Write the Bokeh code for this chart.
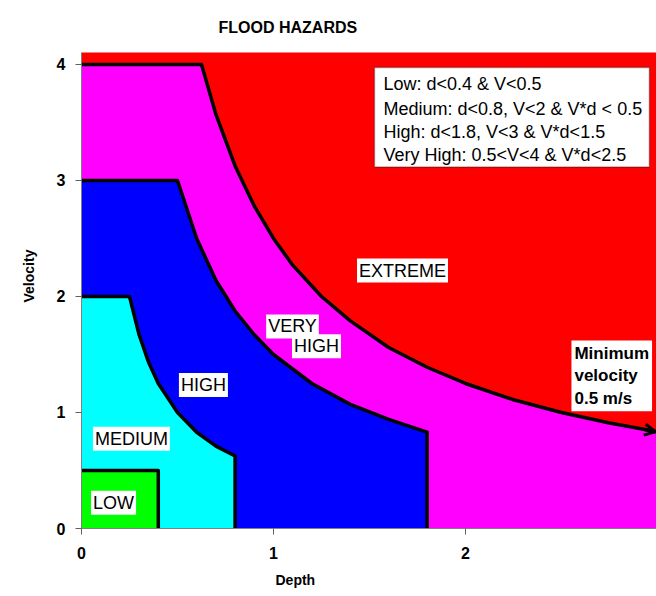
from bokeh.plotting import figure
from bokeh.models import Label, BoxAnnotation, Arrow, OpenHead, Range1d, FixedTicker, Title
from bokeh.embed import file_html
from bokeh.resources import INLINE

# ---- data (depth in m, velocity in m/s) ----
low_depth = [0.0, 0.4, 0.4]
low_vel = [0.5, 0.5, 0.0]

medium_depth = [0.0, 0.25, 0.3, 0.35, 0.4, 0.5, 0.6, 0.7, 0.8, 0.8]
medium_vel = [2.0, 2.0, 1.67, 1.43, 1.25, 1.0, 0.83, 0.71, 0.625, 0.0]

high_depth = [0.0, 0.5, 0.6, 0.7, 0.8, 0.9, 1.0, 1.2, 1.4, 1.6, 1.8, 1.8]
high_vel = [3.0, 3.0, 2.5, 2.14, 1.875, 1.67, 1.5, 1.25, 1.07, 0.94, 0.83, 0.0]

vhigh_depth = [0.0, 0.625, 0.7, 0.8, 0.9, 1.0, 1.1, 1.25, 1.4, 1.6, 1.8, 2.0, 2.25, 2.5, 2.75, 3.0]
vhigh_vel = [4.0, 4.0, 3.57, 3.125, 2.78, 2.5, 2.27, 2.0, 1.79, 1.56, 1.39, 1.25, 1.11, 1.0, 0.91, 0.833]

x_ticks = [0, 1, 2, 3]
y_ticks = [0, 1, 2, 3, 4]

legend_lines = [
    "Low: d<0.4 & V<0.5",
    "Medium: d<0.8, V<2 & V*d < 0.5",
    "High: d<1.8, V<3 & V*d<1.5",
    "Very High: 0.5<V<4 & V*d<2.5",
]

FONT = "Liberation Sans"

p = figure(width=656, height=596, x_range=Range1d(0, 2.995), y_range=Range1d(0, 4.103),
           output_backend="svg", toolbar_location=None, title=None,
           min_border_left=81, min_border_right=0, min_border_top=50, min_border_bottom=68)
p.outline_line_color = None
p.background_fill_color = "#FF0000"
p.border_fill_color = "white"
p.xgrid.visible = False
p.ygrid.visible = False

for ax in (p.xaxis[0], p.yaxis[0]):
    ax.axis_line_color = "#808080"
    ax.major_tick_line_color = "#606060"
    ax.major_tick_out = 6
    ax.major_tick_in = 0
    ax.minor_tick_line_color = None
    ax.major_label_text_font = FONT
    ax.major_label_text_font_style = "bold"
    ax.major_label_text_font_size = "16px"
    ax.major_label_text_color = "black"
p.xaxis.ticker = FixedTicker(ticks=x_ticks)
p.yaxis.ticker = FixedTicker(ticks=y_ticks)
p.xaxis.major_label_standoff = 12
p.yaxis.major_label_standoff = 10

# zones
p.patch([0.0] + vhigh_depth + [vhigh_depth[-1]], [0.0] + vhigh_vel + [0.0],
        fill_color="#FF00FF", line_color=None)
p.patch([0.0] + high_depth, [0.0] + high_vel, fill_color="#0000FF", line_color=None)
p.patch([0.0] + medium_depth, [0.0] + medium_vel, fill_color="#00FFFF", line_color=None)
p.patch([0.0] + low_depth, [0.0] + low_vel, fill_color="#00FF00", line_color=None)

# boundaries
for xs, ys in ((vhigh_depth, vhigh_vel), (high_depth, high_vel),
               (medium_depth, medium_vel), (low_depth, low_vel)):
    p.line(xs, ys, line_color="black", line_width=3.5, line_join="round")

p.add_layout(Arrow(end=OpenHead(size=11, line_width=3, line_color="black"),
                   x_start=2.92, y_start=0.856, x_end=2.99, y_end=0.834,
                   line_width=3, line_color="black"))

def zone_label(text, x, y, size="18px", style="normal"):
    p.add_layout(Label(x=x, y=y, text=text, text_align="center", text_baseline="middle",
                       text_font=FONT, text_font_size=size, text_font_style=style,
                       text_color="black", background_fill_color="white", padding=2))

zone_label("EXTREME", 1.672, 2.223)
zone_label("VERY", 1.099, 1.742)
zone_label("HIGH", 1.224, 1.571)
zone_label("HIGH", 0.635, 1.236)
zone_label("MEDIUM", 0.260, 0.773)
zone_label("LOW", 0.167, 0.223)

p.add_layout(Label(x=2.552, y=1.62, text="Minimum\nvelocity\n0.5 m/s", text_align="left",
                   text_baseline="top", text_font=FONT, text_font_size="17px",
                   text_font_style="bold", text_color="black", text_line_height=1.2,
                   background_fill_color="white", padding=3))

# legend box
p.add_layout(BoxAnnotation(left=1.526, right=2.958, top=3.974, bottom=3.116,
                           fill_color="white", fill_alpha=1.0, line_color="black", line_width=1.5))
for txt, yy in zip(legend_lines, [3.828, 3.614, 3.416, 3.219]):
    p.add_layout(Label(x=1.573, y=yy, text=txt, text_align="left", text_baseline="middle",
                       text_font=FONT, text_font_size="18px", text_color="black"))

# title and axis titles
p.add_layout(Title(text="FLOOD HAZARDS", align="left", offset=137, standoff=33,
                   text_font=FONT, text_font_size="16px", text_font_style="bold",
                   text_color="black"), "above")
p.add_layout(Title(text="Depth", align="left", offset=194, standoff=16,
                   text_font=FONT, text_font_size="14px", text_font_style="bold",
                   text_color="black"), "below")
p.add_layout(Title(text="Velocity", align="left", offset=226, standoff=34,
                   text_font=FONT, text_font_size="14px", text_font_style="bold",
                   text_color="black"), "left")

open("out.html", "w").write(file_html(p, INLINE))
